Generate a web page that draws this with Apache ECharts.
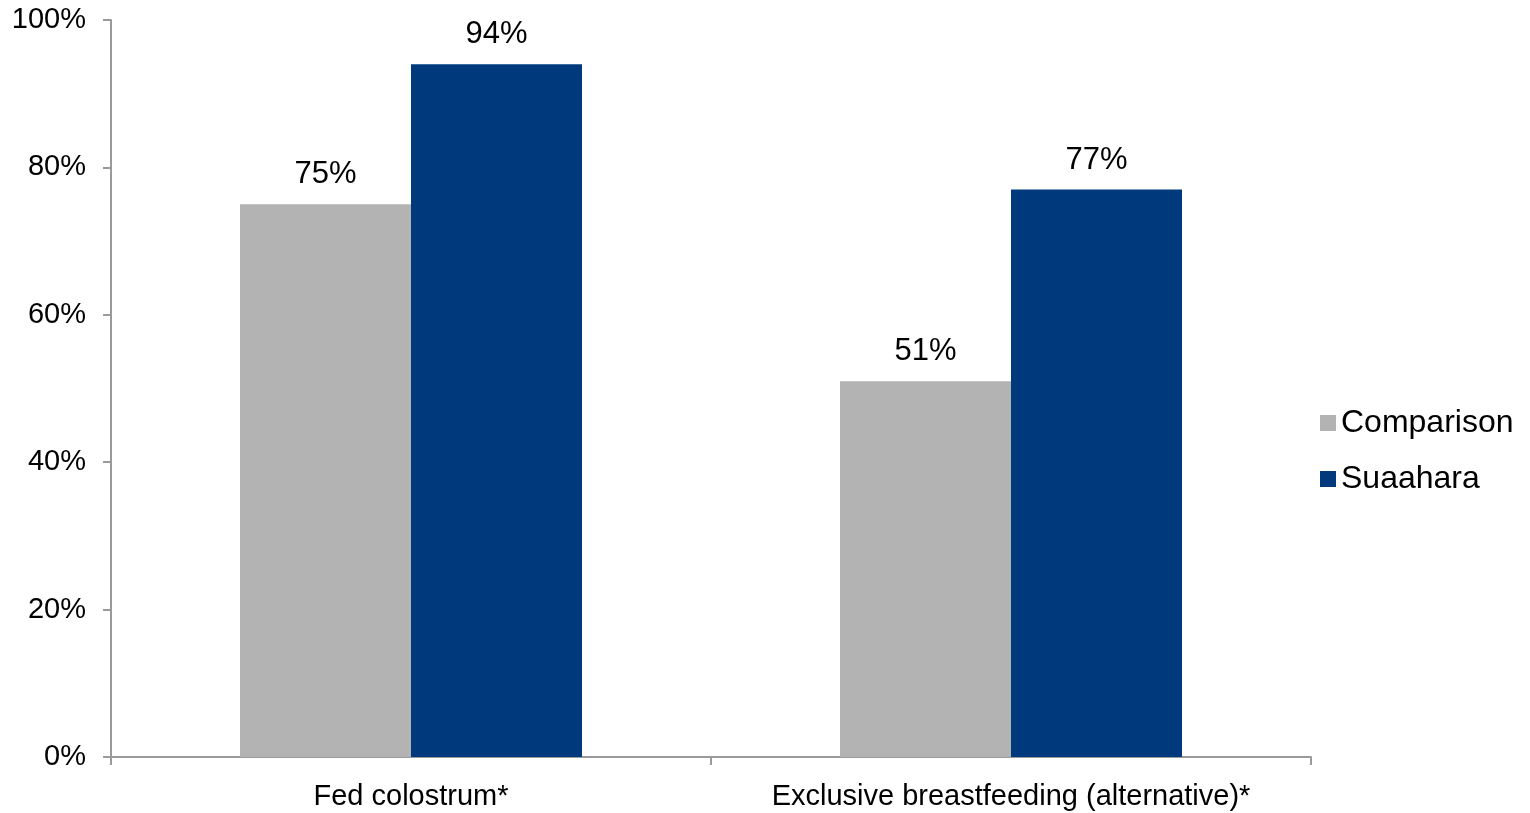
<!DOCTYPE html>
<html>
<head>
<meta charset="utf-8">
<script src="https://cdn.jsdelivr.net/npm/echarts@6/dist/echarts.min.js"></script>
<style>html,body{margin:0;padding:0;background:#fff}#c{width:1530px;height:813px}</style>
</head>
<body>
<div id="c"></div>
<script>
const categories = ['Fed colostrum*', 'Exclusive breastfeeding (alternative)*'];
const comparison = [75, 51];
const suaahara = [94, 77];
const yTicks = [0, 20, 40, 60, 80, 100];

const font = 'Liberation Sans, Arial, sans-serif';
const chart = echarts.init(document.getElementById('c'));
chart.setOption({
  animation: false,
  grid: { left: 111, right: 219, top: 20, bottom: 56 },
  legend: {
    orient: 'vertical', left: 1315, top: 402,
    itemWidth: 16, itemHeight: 16, itemGap: 24,
    icon: 'rect',
    textStyle: { fontFamily: font, fontSize: 32, color: '#000', padding: [0, 0, 0, 0], lineHeight: 32 },
    data: ['Comparison', 'Suaahara']
  },
  xAxis: {
    type: 'category', data: categories,
    axisLine: { lineStyle: { color: '#9a9a9a', width: 2 } },
    axisTick: { show: true, length: 8, interval: 0, lineStyle: { color: '#9a9a9a', width: 2 } },
    axisLabel: { interval: 0, fontFamily: font, fontSize: 29, color: '#000', margin: 25 }
  },
  yAxis: {
    type: 'value', min: 0, max: 100, interval: 20,
    splitLine: { show: false },
    axisLine: { show: true, lineStyle: { color: '#9a9a9a', width: 2 } },
    axisTick: { show: true, length: 8, lineStyle: { color: '#9a9a9a', width: 2 } },
    axisLabel: { fontFamily: font, fontSize: 29, color: '#000', margin: 25,
      formatter: v => yTicks.includes(v) ? v + '%' : '' }
  },
  series: [
    { name: 'Comparison', type: 'bar', data: comparison, barWidth: 171, barGap: '0%',
      itemStyle: { color: '#b3b3b3' },
      label: { show: true, position: 'top', distance: 14, fontFamily: font, fontSize: 31, color: '#000', formatter: p => p.value + '%' } },
    { name: 'Suaahara', type: 'bar', data: suaahara, barWidth: 171, barGap: '0%',
      itemStyle: { color: '#003a7d' },
      label: { show: true, position: 'top', distance: 14, fontFamily: font, fontSize: 31, color: '#000', formatter: p => p.value + '%' } }
  ]
});
</script>
</body>
</html>
